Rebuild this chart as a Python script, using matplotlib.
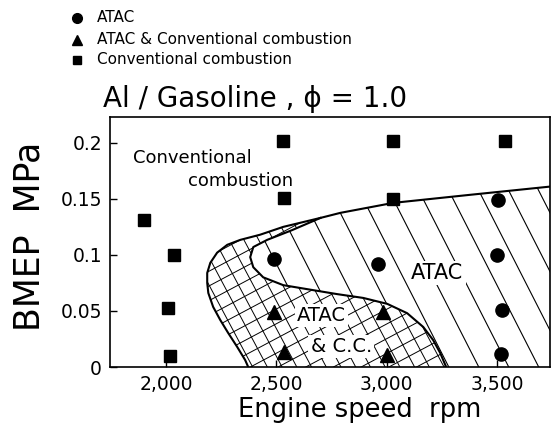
import numpy as np
import matplotlib
matplotlib.use("Agg")
import matplotlib.pyplot as plt
from matplotlib.patches import Polygon
from matplotlib.collections import LineCollection
from matplotlib.lines import Line2D
from matplotlib.transforms import Affine2D

plt.rcParams['font.family'] = ['DejaVu Sans']

# ---------------- data ----------------
atac_rpm = [2490, 2962, 3506, 3501, 3525, 3520]
atac_bmep = [0.096, 0.092, 0.149, 0.100, 0.051, 0.012]

mixed_rpm = [2490, 2985, 2535, 3003]
mixed_bmep = [0.049, 0.049, 0.013, 0.011]

conv_rpm = [1900, 2036, 2009, 2018, 2531, 3030, 3538, 2535, 3030]
conv_bmep = [0.131, 0.100, 0.053, 0.010, 0.202, 0.202, 0.202, 0.151, 0.150]

# outer boundary of the ATAC region (right edge -> along top -> down left side)
outer_rpm = [3745, 3379, 3030, 2790, 2700, 2531, 2426, 2336, 2277, 2231, 2200,
             2186, 2186, 2191, 2213, 2245, 2281, 2322, 2358, 2372]
outer_bmep = [0.161, 0.1536, 0.1464, 0.1375, 0.133, 0.125, 0.118, 0.1134, 0.109,
              0.102, 0.0929, 0.0839, 0.075, 0.066, 0.0536, 0.042, 0.0304, 0.0179,
              0.00625, 0.0]
split_idx = 4  # where the inner boundary leaves the outer one

# inner boundary separating "ATAC" from "ATAC & C.C."
inner_rpm = [2700, 2570, 2458, 2395, 2381, 2395, 2440, 2531, 2653, 2776, 2894,
             3003, 3093, 3166, 3211, 3243, 3266, 3270]
inner_bmep = [0.133, 0.122, 0.1134, 0.107, 0.098, 0.089, 0.080, 0.073, 0.069,
              0.065, 0.0616, 0.0563, 0.048, 0.0357, 0.024, 0.0125, 0.0018, 0.0]

xtick_vals = [2000, 2500, 3000, 3500]
xtick_labels = ['2,000', '2,500', '3,000', '3,500']
ytick_vals = [0, 0.05, 0.1, 0.15, 0.2]
ytick_labels = ['0', '0.05', '0.1', '0.15', '0.2']

legend_labels = ['ATAC', 'ATAC & Conventional combustion', 'Conventional combustion']
legend_markers = ['o', '^', 's']
legend_sizes = [7, 7.5, 5.5]

# ---------------- figure ----------------
W, H = 554, 440
fig = plt.figure(figsize=(W / 100, H / 100), dpi=100)
AX_L, AX_B, AX_W, AX_H = 110, 73, 440, 250
ax = fig.add_axes([AX_L / W, AX_B / H, AX_W / W, AX_H / H])
ax.set_xlim(1745, 3741)
ax.set_ylim(0, 0.223)

# region polygons
atac_x = outer_rpm[:split_idx + 1] + inner_rpm[1:] + [3745]
atac_y = outer_bmep[:split_idx + 1] + inner_bmep[1:] + [0.0]
cc_x = outer_rpm[split_idx:] + inner_rpm[::-1][:-1]
cc_y = outer_bmep[split_idx:] + inner_bmep[::-1][:-1]

atac_patch = Polygon(np.column_stack([atac_x, atac_y]), closed=True,
                     facecolor='none', edgecolor='none')
cc_patch = Polygon(np.column_stack([cc_x, cc_y]), closed=True,
                   facecolor='none', edgecolor='none')
ax.add_patch(atac_patch)
ax.add_patch(cc_patch)

px_trans = Affine2D().scale(1.0 / AX_W, 1.0 / AX_H) + ax.transAxes


def hatch(angle_deg, spacing, phase, clip_patch, lw):
    th = np.deg2rad(angle_deg)
    d = np.array([np.cos(th), np.sin(th)])
    n = np.array([-np.sin(th), np.cos(th)])
    c = np.array([AX_W / 2, AX_H / 2])
    L = 700
    offs = phase + spacing * np.arange(-40, 41)
    segs = [[c + n * o - d * L, c + n * o + d * L] for o in offs]
    lc = LineCollection(segs, colors='black', linewidths=lw,
                        transform=px_trans, zorder=1.5)
    ax.add_collection(lc)
    lc.set_clip_path(clip_patch)


hatch(-63, 26.7, 49.1, atac_patch, 0.8)
hatch(-62, 13.0, 3.0, cc_patch, 0.7)
hatch(28, 13.0, 5.0, cc_patch, 0.7)

ax.plot(outer_rpm, outer_bmep, color='black', lw=1.5, zorder=2)
ax.plot(inner_rpm, inner_bmep, color='black', lw=1.5, zorder=2)

# region labels
ax.text(2118, 0.186, 'Conventional', fontsize=13, ha='center', va='center', zorder=3)
ax.text(2336, 0.166, 'combustion', fontsize=13, ha='center', va='center', zorder=3)
wb = dict(facecolor='white', edgecolor='none', pad=1.5)
ax.text(3230, 0.084, 'ATAC', fontsize=15, ha='center', va='center', bbox=wb, zorder=3)
ax.text(2703, 0.046, 'ATAC', fontsize=14, ha='center', va='center', bbox=wb, zorder=3)
ax.text(2794, 0.018, '& C.C.', fontsize=14, ha='center', va='center', bbox=wb, zorder=3)

# data points
ax.plot(atac_rpm, atac_bmep, 'o', color='black', ms=9.5, zorder=5, clip_on=False)
ax.plot(mixed_rpm, mixed_bmep, '^', color='black', ms=10, zorder=5, clip_on=False)
ax.plot(conv_rpm, conv_bmep, 's', color='black', ms=8.5, zorder=5, clip_on=False)

# axes styling
for sp in ax.spines.values():
    sp.set_linewidth(1.2)
ax.set_xticks(xtick_vals)
ax.set_xticklabels(xtick_labels)
ax.set_yticks(ytick_vals)
ax.set_yticklabels(ytick_labels)
ax.tick_params(axis='both', direction='in', length=5, width=1.0,
               labelsize=13.5, pad=5.8)

ax.set_xlabel('Engine speed  rpm', fontsize=18.5)
ax.xaxis.set_label_coords((360 - AX_L) / AX_W, (367 - 410) / AX_H)
ax.xaxis.label.set_verticalalignment('center')
ax.set_ylabel('BMEP  MPa', fontsize=25)
ax.yaxis.set_label_coords((30 - AX_L) / AX_W, (367 - 236) / AX_H)
ax.yaxis.label.set_verticalalignment('center')

ax.set_title('Al / Gasoline , \u03d5 = 1.0', fontsize=20, loc='left',
             x=(103 - AX_L) / AX_W, pad=7)

# legend (drawn at top-left of figure)
rows_y = [18, 40, 60]
for lab, mk, ms, ry in zip(legend_labels, legend_markers, legend_sizes, rows_y):
    fig.add_artist(Line2D([77 / W], [1 - ry / H], marker=mk, ms=ms, color='black',
                          linestyle='none', transform=fig.transFigure))
    fig.text(97 / W, 1 - ry / H, lab, fontsize=11, ha='left', va='center')

fig.savefig('out.png', dpi=100)
